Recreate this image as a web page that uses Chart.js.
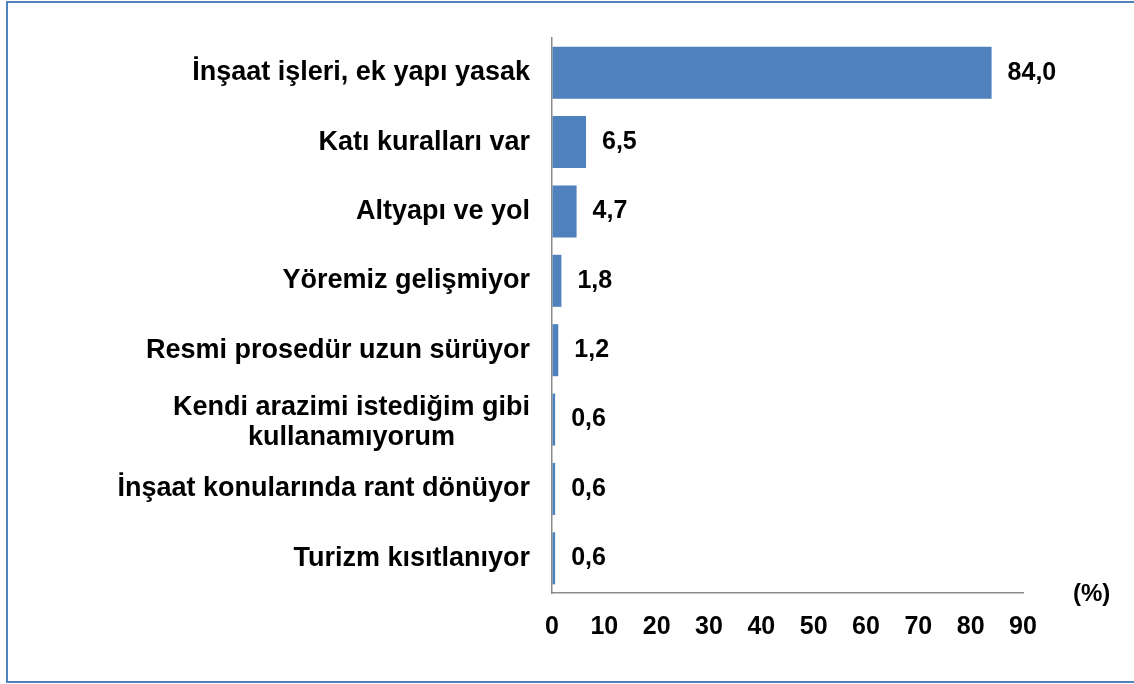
<!DOCTYPE html>
<html>
<head>
<meta charset="utf-8">
<script src="https://cdn.jsdelivr.net/npm/chart.js@4.4.0/dist/chart.umd.min.js"></script>
<style>
    html, body { margin: 0; padding: 0; background: #fff; }
    #wrap { position: relative; width: 1134px; height: 684px; overflow: hidden; }
    #frame {
        position: absolute; left: 6px; top: 1px; width: 1200px; height: 678px;
        border-left: 2px solid #4f81bd; border-top: 2px solid #4f81bd; border-bottom: 2px solid #4f81bd;
    }
    canvas { position: absolute; left: 0; top: 0; }
</style>
</head>
<body>
<div id="wrap">
    <div id="frame"></div>
    <canvas id="grafico" width="1134" height="684"></canvas>
</div>
<script>
const kategoriler = [
    ['İnşaat işleri, ek yapı yasak'],
    ['Katı kuralları var'],
    ['Altyapı ve yol'],
    ['Yöremiz gelişmiyor'],
    ['Resmi prosedür uzun sürüyor'],
    ['Kendi arazimi istediğim gibi', 'kullanamıyorum'],
    ['İnşaat konularında rant dönüyor'],
    ['Turizm kısıtlanıyor']
];
const degerler = [84.0, 6.5, 4.7, 1.8, 1.2, 0.6, 0.6, 0.6];
const eksenEtiketleri = [0, 10, 20, 30, 40, 50, 60, 70, 80, 90];
const birim = '(%)';

const yaziTipi = '"Liberation Sans", Arial, sans-serif';

// etiketleri, değerleri ve (%) yazısını elle çizen eklenti
const etiketEklentisi = {
    id: 'etiketler',
    afterDatasetsDraw(chart) {
        const ctx = chart.ctx;
        const yEkseni = chart.scales.y;
        const xEkseni = chart.scales.x;
        const meta = chart.getDatasetMeta(0);
        ctx.save();
        ctx.fillStyle = '#000';

        // kategori etiketleri
        ctx.font = 'bold 27px ' + yaziTipi;
        ctx.textBaseline = 'middle';
        ctx.textAlign = 'center';
        const sagKenar = chart.chartArea.left - 22;
        const satirYuksekligi = 30;
        kategoriler.forEach((satirlar, i) => {
            const yMerkez = yEkseni.getPixelForTick(i) + (satirlar.length > 1 ? 3 : 0);
            const enGenis = Math.max(...satirlar.map(s => ctx.measureText(s).width));
            const xMerkez = sagKenar - enGenis / 2;
            const ilkY = yMerkez - (satirlar.length - 1) * satirYuksekligi / 2;
            satirlar.forEach((s, j) => {
                ctx.fillText(s, xMerkez, ilkY + j * satirYuksekligi);
            });
        });

        // değer etiketleri
        ctx.font = 'bold 25px ' + yaziTipi;
        ctx.textAlign = 'left';
        meta.data.forEach((bar, i) => {
            const metin = degerler[i].toFixed(1).replace('.', ',');
            ctx.fillText(metin, bar.x + 16, bar.y);
        });

        // birim
        ctx.font = 'bold 24px ' + yaziTipi;
        ctx.fillText(birim, xEkseni.right + 50, xEkseni.top + 1);
        ctx.restore();
    }
};

const ctx = document.getElementById('grafico').getContext('2d');
new Chart(ctx, {
    type: 'bar',
    data: {
        labels: kategoriler,
        datasets: [{
            data: degerler,
            backgroundColor: '#4f81bd',
            borderWidth: 0,
            categoryPercentage: 1.0,
            barPercentage: 0.75
        }]
    },
    options: {
        indexAxis: 'y',
        responsive: false,
        animation: false,
        events: [],
        layout: {
            padding: { left: 0, right: 111, top: 38, bottom: 0 }
        },
        plugins: {
            legend: { display: false },
            tooltip: { enabled: false }
        },
        scales: {
            x: {
                type: 'linear',
                min: 0,
                max: 90,
                afterBuildTicks(scale) {
                    scale.ticks = eksenEtiketleri.map(v => ({ value: v }));
                },
                afterFit(scale) {
                    scale.height = 91;
                },
                grid: { display: true, drawOnChartArea: false, drawTicks: false },
                border: { display: true, color: '#8c8c8c', width: 1.5 },
                ticks: {
                    color: '#000',
                    padding: 19,
                    maxRotation: 0,
                    autoSkip: false,
                    font: { family: yaziTipi, size: 25, weight: 'bold' }
                }
            },
            y: {
                afterFit(scale) {
                    scale.width = 552;
                },
                grid: { display: true, drawOnChartArea: false, drawTicks: false },
                border: { display: true, color: '#8c8c8c', width: 1.5 },
                ticks: { display: false }
            }
        }
    },
    plugins: [etiketEklentisi]
});
</script>
</body>
</html>
